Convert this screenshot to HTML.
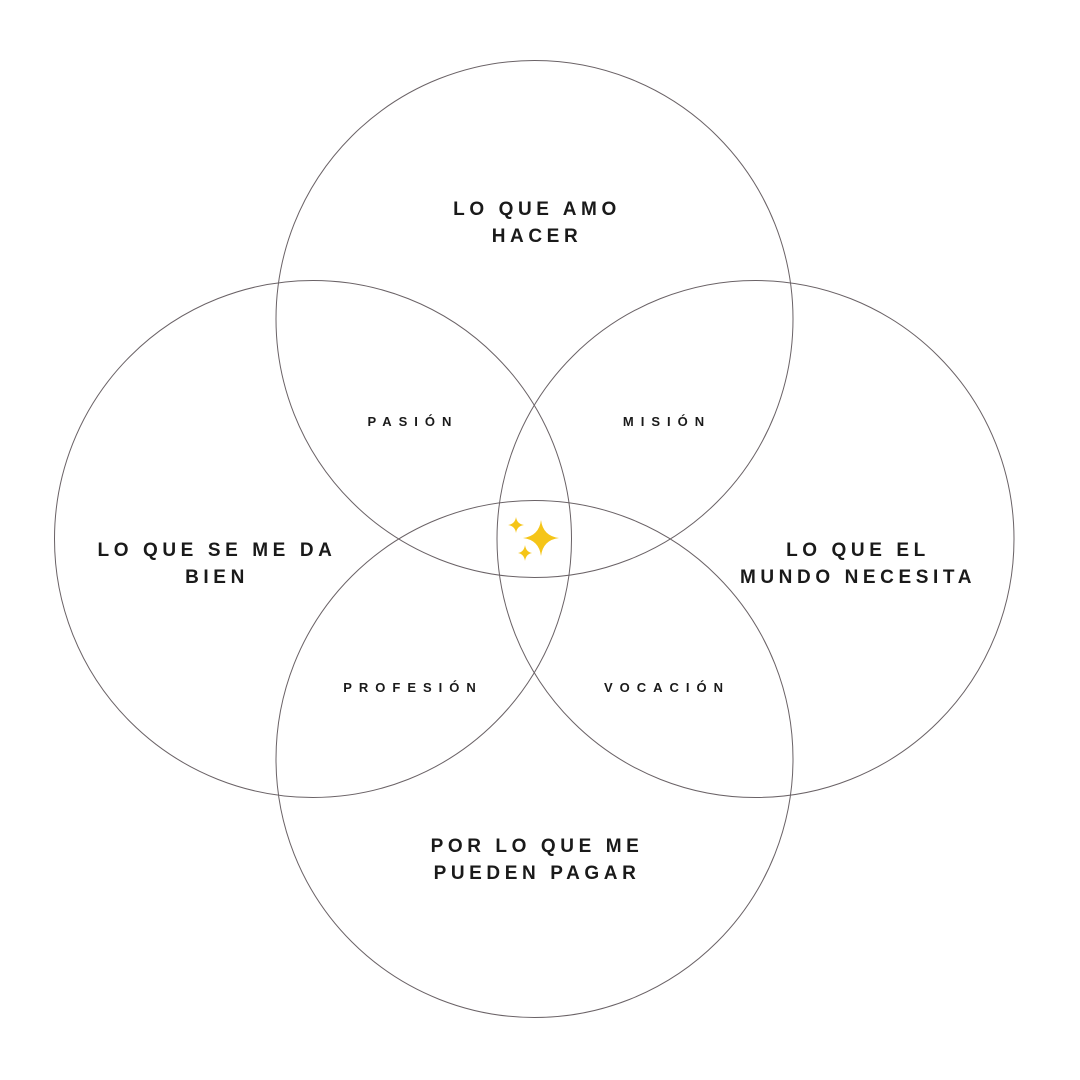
<!DOCTYPE html>
<html><head><meta charset="utf-8"><style>
html,body{margin:0;padding:0;background:#fff;}
svg{display:block}
.b{font-family:"Liberation Sans",sans-serif;font-weight:bold;font-size:19px;letter-spacing:4.6px;fill:#1a1a1a;text-anchor:middle}
.s{font-family:"Liberation Sans",sans-serif;font-weight:bold;font-size:13px;letter-spacing:7px;fill:#1a1a1a;text-anchor:middle}
</style></head><body>
<svg width="1080" height="1080" viewBox="0 0 1080 1080">
<g fill="none" stroke="#6a6266" stroke-width="1">
<circle cx="534.5" cy="319" r="258.5"/>
<circle cx="313" cy="539" r="258.5"/>
<circle cx="755.5" cy="539" r="258.5"/>
<circle cx="534.5" cy="759" r="258.5"/>
</g>
<text class="b" x="537" y="215">LO QUE AMO</text>
<text class="b" x="537" y="242">HACER</text>
<text class="b" x="217" y="556">LO QUE SE ME DA</text>
<text class="b" x="217" y="583">BIEN</text>
<text class="b" x="858" y="556">LO QUE EL</text>
<text class="b" x="858" y="583">MUNDO NECESITA</text>
<text class="b" x="537" y="852">POR LO QUE ME</text>
<text class="b" x="537" y="879">PUEDEN PAGAR</text>
<text class="s" x="413" y="426">PASIÓN</text>
<text class="s" x="667" y="426">MISIÓN</text>
<text class="s" x="413" y="692">PROFESIÓN</text>
<text class="s" x="667" y="692">VOCACIÓN</text>
<g fill="#f5c518">
<path d="M541 520 Q543 536 559 538 Q543 540 541 556 Q539 540 523 538 Q539 536 541 520Z"/>
<path d="M516 517 Q517 524 524 525 Q517 526 516 533 Q515 526 508 525 Q515 524 516 517Z"/>
<path d="M525 545 Q526 552 532 553 Q526 554 525 561 Q524 554 518 553 Q524 552 525 545Z"/>
</g>
</svg>
</body></html>
